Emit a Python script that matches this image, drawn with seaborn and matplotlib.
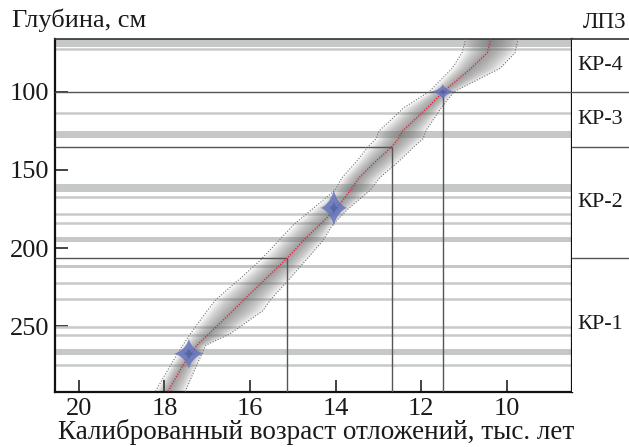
import numpy as np
import pandas as pd
import matplotlib
matplotlib.use('Agg')
import matplotlib.pyplot as plt
import seaborn as sns

# age-depth model (depth in cm, age in ka cal BP)
depth_grid = [66, 75, 85, 100, 110, 125, 130, 135, 145, 155, 163, 175, 185, 195,
              207, 220, 233, 240, 255, 262, 275, 292]
age_median = [10.37, 10.45, 10.83, 11.48, 11.84, 12.43, 12.53, 12.68, 13.08, 13.45,
              13.65, 13.99, 14.37, 14.75, 15.15, 15.65, 16.14, 16.40, 16.97, 17.24,
              17.57, 17.93]
age_older = [10.95, 11.04, 11.27, 11.81, 12.39, 12.98, 13.05, 13.23, 13.52, 13.85,
             14.01, 14.54, 14.98, 15.32, 15.73, 16.25, 16.80, 17.00, 17.40, 17.57,
             17.86, 18.22]
age_younger = [9.73, 9.80, 10.15, 11.23, 11.52, 11.89, 11.95, 12.16, 12.54, 12.97,
               13.19, 13.71, 14.07, 14.29, 14.67, 15.09, 15.52, 15.70, 16.48, 17.03,
               17.25, 17.52]

# calibrated dates (blue shapes)
date_age = [11.49, 14.04, 17.43]
date_depth = [100.0, 174.3, 267.5]
date_age_spread = [0.30, 0.32, 0.36]
date_depth_spread = [5.0, 12.5, 10.0]

# lithology marks (grey stripes)
band_top = [66.3, 125.4, 159.2, 193.1, 210.9, 264.2]
band_bottom = [71.5, 129.4, 163.9, 195.9, 213.0, 268.5]
thin_lines = [72.8, 113.8, 167.2, 178.3, 184.2, 222.6, 232.8, 250.3, 255.7, 274.9]

# pollen zones
zone_names = ['КР-4', 'КР-3', 'КР-2', 'КР-1']
zone_bounds = [66.3, 100.0, 135.2, 206.2, 292.0]
boundary_ages = [11.49, 12.69, 15.14]

x_ticks = [20, 18, 16, 14, 12, 10]
y_ticks = [100, 150, 200, 250]

sns.set_style('ticks')
plt.rcParams['font.family'] = ['Liberation Serif', 'DejaVu Serif']

fig = plt.figure(figsize=(6.29, 4.47), dpi=100)
ax = fig.add_axes([55 / 629, 55 / 447, 517 / 629, 353 / 447])
axr = fig.add_axes([572 / 629, 55 / 447, 57 / 629, 353 / 447])

xlim = (20.56, 8.47)
ylim = (292.0, 66.3)

# grey stripes
for top, bot in zip(band_top, band_bottom):
    ax.axhspan(top, bot, color='#c6c8c8', lw=0, zorder=1)
for d in thin_lines:
    ax.axhline(d, color='#c8caca', lw=1.8, zorder=1)

# gradient band of the model
med = np.array(age_median)
old = np.array(age_older)
yng = np.array(age_younger)
for f in np.linspace(1.0, 0.05, 16):
    ax.fill_betweenx(depth_grid, med + (old - med) * f, med - (med - yng) * f,
                     color='#6a6a6a', alpha=0.055, lw=0, zorder=2)

df = pd.DataFrame({'depth': depth_grid, 'median': age_median,
                   'older': age_older, 'younger': age_younger})
sns.lineplot(data=df, x='older', y='depth', sort=False, estimator=None, ax=ax,
             color='#707070', lw=0.8, linestyle=(0, (1, 1.5)), zorder=3)
sns.lineplot(data=df, x='younger', y='depth', sort=False, estimator=None, ax=ax,
             color='#707070', lw=0.8, linestyle=(0, (1, 1.5)), zorder=3)
sns.lineplot(data=df, x='median', y='depth', sort=False, estimator=None, ax=ax,
             color='#e8203a', lw=0.9, linestyle=(0, (1, 1.2)), zorder=4)

# calibrated dates as star-like shapes: astroid arms over a round body
phi = np.linspace(0, 2 * np.pi, 400)
r_ast = (np.abs(np.cos(phi)) ** (2 / 3) + np.abs(np.sin(phi)) ** (2 / 3)) ** -1.5
r = np.maximum(r_ast, 0.47)
cx = r * np.cos(phi)
cy = r * np.sin(phi)
for a, d, sa, sd in zip(date_age, date_depth, date_age_spread, date_depth_spread):
    ax.fill(a + sa * cx, d + sd * cy, color='#6575c0', alpha=0.85, lw=0, zorder=5)
    ax.fill(a + 0.35 * sa * cx, d + 0.35 * sd * cy, color='#2a3578', alpha=0.3,
            lw=0, zorder=6)

# zone boundaries
ax.axhline(zone_bounds[1], color='#555555', lw=1.0, zorder=3)
for d, a in zip(zone_bounds[2:4], boundary_ages[1:]):
    ax.hlines(d, xlim[0], a, color='#555555', lw=1.0, zorder=3)
for d, a in zip(zone_bounds[1:4], boundary_ages):
    ax.vlines(a, d, ylim[0], color='#555555', lw=1.0, zorder=3)

ax.set_xlim(xlim)
ax.set_ylim(ylim)
ax.set_xticks(x_ticks)
ax.set_yticks(y_ticks)
ax.tick_params(direction='in', length=9, width=1.2, labelsize=19, pad=4,
               color='#222222', labelcolor='#1a1a1a')
ax.set_xlabel('')
ax.set_ylabel('')
for side in ['left', 'bottom', 'right']:
    ax.spines[side].set_linewidth(1.6)
    ax.spines[side].set_color('#111111')
ax.spines['top'].set_linewidth(1.2)
ax.spines['top'].set_color('#333333')

# zone column
axr.set_xlim(0, 1)
axr.set_ylim(ylim)
for d in zone_bounds[1:4]:
    axr.axhline(d, color='#555555', lw=1.0)
for name, top, bot in zip(zone_names, zone_bounds[:-1], zone_bounds[1:]):
    axr.text(0.5, (top + bot) / 2, name, ha='center', va='center', fontsize=16,
             color='#1a1a1a')
axr.set_xticks([])
axr.set_yticks([])
for side in ['left', 'bottom', 'right']:
    axr.spines[side].set_visible(False)
axr.spines['top'].set_linewidth(1.2)
axr.spines['top'].set_color('#333333')

fig.text(12 / 629, 1 - 20 / 447, 'Глубина, см', ha='left', va='center',
         fontsize=19, color='#1a1a1a')
fig.text(605 / 629, 1 - 22 / 447, 'ЛПЗ', ha='center', va='center',
         fontsize=16.5, color='#1a1a1a')
fig.text(316 / 629, 1 - 432 / 447, 'Калиброванный возраст отложений, тыс. лет',
         ha='center', va='center', fontsize=19.5, color='#1a1a1a')

fig.savefig('out.png', dpi=100)
